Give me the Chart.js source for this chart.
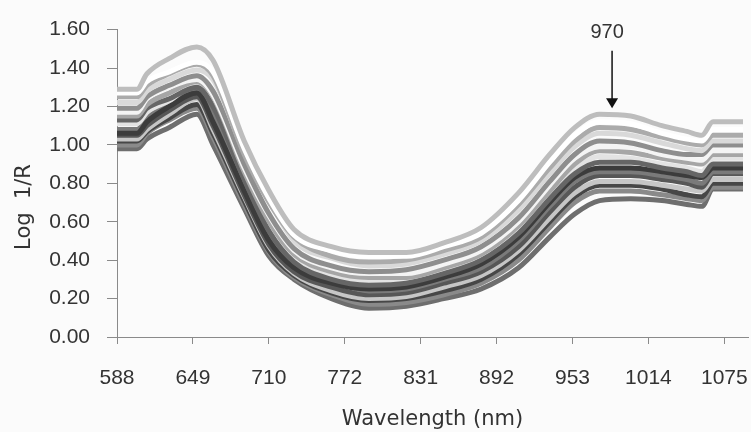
<!DOCTYPE html>
<html lang="en">
<head>
  <meta charset="UTF-8" />
  <title>Log 1/R spectra</title>
  <script src="https://cdn.jsdelivr.net/npm/chart.js"></script>
  <style>
    html, body { margin: 0; padding: 0; background: #fbfbfb; }
    #wrap { width: 751px; height: 432px; }
  </style>
</head>
<body>
  <div id="wrap"><canvas id="spectra" width="751" height="432"></canvas></div>

  <script>
    // wavelengths (nm) where the spectra were read
    const wavelengths = [588, 604, 612, 630, 652, 665, 690, 710, 730, 760, 790, 820, 850, 880, 910, 935, 955, 975, 1000, 1025, 1045, 1057, 1066, 1090];

    // tick labels on the x axis
    const tickLabels = ['588', '649', '710', '772', '831', '892', '953', '1014', '1075'];
    const yTicks = [0, 0.2, 0.4, 0.6, 0.8, 1.0, 1.2, 1.4, 1.6];

    // Log 1/R of each sample, top to bottom
    const s1  = [1.29, 1.29, 1.37, 1.45, 1.51, 1.44, 1.02, 0.76, 0.56, 0.47, 0.44, 0.44, 0.49, 0.57, 0.75, 0.95, 1.09, 1.16, 1.15, 1.10, 1.07, 1.05, 1.12, 1.12];
    const s2  = [1.27, 1.27, 1.33, 1.38, 1.43, 1.38, 0.98, 0.72, 0.53, 0.45, 0.42, 0.42, 0.47, 0.54, 0.71, 0.91, 1.05, 1.12, 1.11, 1.06, 1.03, 1.02, 1.08, 1.08];
    const s3  = [1.25, 1.25, 1.31, 1.37, 1.42, 1.36, 0.95, 0.70, 0.52, 0.42, 0.39, 0.40, 0.45, 0.52, 0.69, 0.88, 1.02, 1.09, 1.08, 1.04, 1.01, 1.00, 1.05, 1.05];
    const s4  = [1.22, 1.22, 1.28, 1.34, 1.39, 1.34, 0.96, 0.71, 0.50, 0.41, 0.37, 0.38, 0.43, 0.50, 0.66, 0.85, 0.99, 1.06, 1.05, 1.01, 0.98, 0.97, 1.02, 1.02];
    const s5  = [1.19, 1.19, 1.25, 1.31, 1.36, 1.28, 0.90, 0.64, 0.46, 0.37, 0.34, 0.35, 0.40, 0.47, 0.62, 0.81, 0.95, 1.02, 1.01, 0.97, 0.95, 0.95, 1.00, 1.00];
    const s6  = [1.17, 1.17, 1.24, 1.30, 1.34, 1.26, 0.88, 0.63, 0.45, 0.36, 0.33, 0.33, 0.38, 0.45, 0.60, 0.79, 0.93, 0.99, 0.99, 0.95, 0.93, 0.92, 0.97, 0.97];
    const s7  = [1.15, 1.15, 1.21, 1.27, 1.33, 1.25, 0.86, 0.60, 0.43, 0.34, 0.31, 0.31, 0.36, 0.43, 0.58, 0.76, 0.90, 0.97, 0.96, 0.93, 0.91, 0.90, 0.95, 0.95];
    const s8  = [1.13, 1.13, 1.19, 1.24, 1.30, 1.20, 0.82, 0.55, 0.39, 0.30, 0.27, 0.28, 0.33, 0.40, 0.54, 0.72, 0.85, 0.91, 0.91, 0.88, 0.86, 0.84, 0.90, 0.90];
    const s9  = [1.11, 1.11, 1.17, 1.23, 1.32, 1.22, 0.84, 0.58, 0.41, 0.32, 0.29, 0.30, 0.35, 0.41, 0.56, 0.74, 0.87, 0.94, 0.93, 0.90, 0.88, 0.86, 0.93, 0.93];
    const s10 = [1.06, 1.06, 1.12, 1.20, 1.27, 1.12, 0.76, 0.50, 0.36, 0.28, 0.25, 0.26, 0.31, 0.38, 0.52, 0.70, 0.83, 0.88, 0.88, 0.86, 0.84, 0.83, 0.88, 0.88];
    const s11 = [1.08, 1.08, 1.14, 1.21, 1.28, 1.16, 0.78, 0.52, 0.37, 0.29, 0.24, 0.25, 0.30, 0.36, 0.50, 0.68, 0.81, 0.86, 0.86, 0.84, 0.82, 0.80, 0.86, 0.86];
    const s12 = [1.05, 1.05, 1.10, 1.18, 1.25, 1.10, 0.74, 0.48, 0.34, 0.26, 0.22, 0.23, 0.28, 0.34, 0.47, 0.65, 0.78, 0.84, 0.84, 0.82, 0.80, 0.78, 0.85, 0.85];
    const s13 = [1.03, 1.03, 1.08, 1.16, 1.24, 1.08, 0.73, 0.47, 0.33, 0.24, 0.20, 0.21, 0.26, 0.32, 0.45, 0.62, 0.75, 0.81, 0.81, 0.79, 0.77, 0.76, 0.82, 0.82];
    const s14 = [1.02, 1.02, 1.07, 1.14, 1.21, 1.06, 0.71, 0.45, 0.32, 0.23, 0.19, 0.20, 0.24, 0.30, 0.43, 0.60, 0.73, 0.79, 0.79, 0.77, 0.74, 0.73, 0.80, 0.80];
    const s15 = [1.00, 1.00, 1.06, 1.13, 1.19, 1.04, 0.69, 0.44, 0.31, 0.22, 0.17, 0.18, 0.22, 0.28, 0.40, 0.57, 0.70, 0.76, 0.76, 0.74, 0.72, 0.71, 0.78, 0.78];
    const s16 = [0.98, 0.98, 1.03, 1.09, 1.16, 1.00, 0.67, 0.42, 0.30, 0.20, 0.15, 0.16, 0.20, 0.25, 0.36, 0.52, 0.64, 0.71, 0.72, 0.71, 0.69, 0.68, 0.77, 0.77];

    const spectra = [s1, s2, s3, s4, s5, s6, s7, s8, s9, s10, s11, s12, s13, s14, s15, s16];
    const shades = ['#bdbdbd', '#ffffff', '#ababab', '#d9d9d9', '#8e8e8e', '#f4f4f4', '#a6a6a6', '#666666',
                    '#e3e3e3', '#3c3c3c', '#7a7a7a', '#575757', '#c6c6c6', '#474747', '#8a8a8a', '#6e6e6e'];

    // arrow over the 970 nm band
    const peakLabel = '970';
    const peakAt = 985;

    const tickStep = (1075 - 588) / (tickLabels.length - 1);

    const arrowPlugin = {
      id: 'peakArrow',
      afterDatasetsDraw(chart) {
        const { ctx, scales } = chart;
        const x = scales.x.getPixelForValue(peakAt);
        const yTop = scales.y.getPixelForValue(1.49);
        const yTip = scales.y.getPixelForValue(1.19);
        ctx.save();
        ctx.strokeStyle = '#111';
        ctx.fillStyle = '#111';
        ctx.lineWidth = 1.5;
        ctx.beginPath();
        ctx.moveTo(x, yTop);
        ctx.lineTo(x, yTip - 8);
        ctx.stroke();
        ctx.beginPath();
        ctx.moveTo(x - 6, yTip - 10);
        ctx.lineTo(x + 6, yTip - 10);
        ctx.lineTo(x, yTip);
        ctx.closePath();
        ctx.fill();
        ctx.font = '20px "Liberation Sans"';
        ctx.fillStyle = '#333';
        ctx.textAlign = 'center';
        ctx.textBaseline = 'middle';
        ctx.fillText(peakLabel, x - 5, scales.y.getPixelForValue(1.585));
        ctx.restore();
      }
    };

    // y title sits a bit below the middle of the axis, so it is drawn here
    const yTitlePlugin = {
      id: 'yTitle',
      afterDraw(chart) {
        const { ctx } = chart;
        ctx.save();
        ctx.translate(25, 207);
        ctx.rotate(-Math.PI / 2);
        ctx.font = '21px "DejaVu Sans"';
        ctx.fillStyle = '#333';
        ctx.textAlign = 'center';
        ctx.textBaseline = 'middle';
        ctx.fillText('Log  1/R', 0, 0);
        ctx.restore();
      }
    };

    const ctx = document.getElementById('spectra').getContext('2d');

    new Chart(ctx, {
      type: 'line',
      data: {
        datasets: spectra.map((vals, i) => ({
          label: 'Sample ' + (i + 1),
          data: vals.map((v, j) => ({ x: wavelengths[j], y: v })),
          borderColor: shades[i],
          borderWidth: 5,
          pointRadius: 0,
          fill: false,
          cubicInterpolationMode: 'monotone'
        }))
      },
      options: {
        responsive: false,
        animation: false,
        layout: { padding: { left: 0, right: 3, top: 28, bottom: 0 } },
        plugins: {
          legend: { display: false },
          tooltip: { enabled: false }
        },
        scales: {
          x: {
            type: 'linear',
            min: 588,
            max: 1094,
            afterBuildTicks: (axis) => {
              axis.ticks = tickLabels.map((t, i) => ({ value: 588 + i * tickStep }));
            },
            afterFit: (axis) => { axis.height = 95; axis.paddingRight = 0; },
            ticks: {
              autoSkip: false,
              maxRotation: 0,
              padding: 22,
              color: '#333',
              font: { family: 'Liberation Sans', size: 21 },
              callback: (v, i) => tickLabels[i]
            },
            grid: { display: true, drawOnChartArea: false, drawTicks: true, tickLength: 7, color: '#8a8a8a' },
            border: { color: '#8a8a8a', width: 1 },
            title: {
              display: true,
              text: 'Wavelength (nm)',
              color: '#333',
              font: { family: 'DejaVu Sans', size: 21 },
              padding: { top: 0, bottom: 0 }
            }
          },
          y: {
            min: 0,
            max: 1.6,
            afterBuildTicks: (axis) => {
              axis.ticks = yTicks.map(v => ({ value: v }));
            },
            afterFit: (axis) => { axis.width = 117; },
            ticks: {
              padding: 17,
              color: '#333',
              font: { family: 'Liberation Sans', size: 21 },
              callback: (v) => Number(v).toFixed(2)
            },
            grid: { display: true, drawOnChartArea: false, drawTicks: true, tickLength: 10, color: '#8a8a8a' },
            border: { color: '#8a8a8a', width: 1 }
          }
        }
      },
      plugins: [arrowPlugin, yTitlePlugin]
    });
  </script>
</body>
</html>
